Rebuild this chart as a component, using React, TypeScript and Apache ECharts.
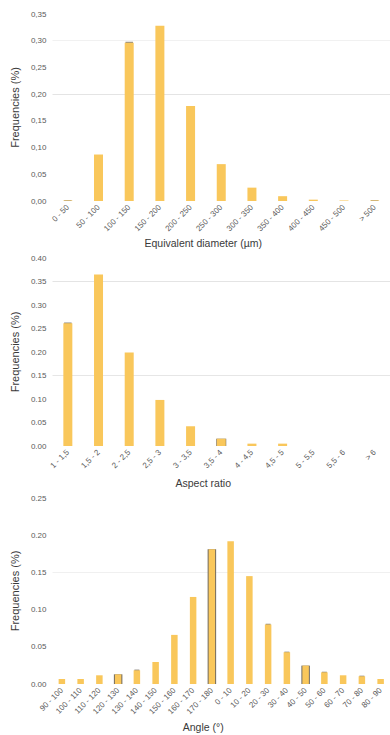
import React, { useEffect, useRef } from "react";
import * as echarts from "echarts";

const diameterCats = ["0 - 50", "50 - 100", "100 - 150", "150 - 200", "200 - 250", "250 - 300", "300 - 350", "350 - 400", "400 - 450", "450 - 500", "> 500"];
const diameterFreq = [0.001, 0.087, 0.296, 0.328, 0.178, 0.069, 0.025, 0.009, 0.0025, 0.001, 0.001];
const diameterEdgeTop = [0.0015, null, 0.298, null, null, null, null, null, null, null, 0.0015];
const diameterEdgeSide = [null, null, null, null, null, null, null, null, null, null, null];
const diameterTicks = [0, 0.05, 0.1, 0.15, 0.2, 0.25, 0.3, 0.35];

const aspectCats = ["1 - 1,5", "1,5 - 2", "2 - 2,5", "2,5 - 3", "3 - 3,5", "3,5 - 4", "4 - 4,5", "4,5 - 5", "5 - 5,5", "5,5 - 6", "> 6"];
const aspectFreq = [0.261, 0.365, 0.199, 0.098, 0.042, 0.0155, 0.005, 0.005, 0, 0, 0];
const aspectEdgeTop = [0.2628, null, null, null, null, null, null, null, null, null, null];
const aspectEdgeSide = [null, null, null, null, null, 0.0155, null, null, null, null, null];
const aspectTicks = [0, 0.05, 0.1, 0.15, 0.2, 0.25, 0.3, 0.35, 0.4];

const angleCats = ["90 - 100", "100 - 110", "110 - 120", "120 - 130", "130 - 140", "140 - 150", "150 - 160", "160 - 170", "170 - 180", "0 - 10", "10 - 20", "20 - 30", "30 - 40", "40 - 50", "50 - 60", "60 - 70", "70 - 80", "80 - 90"];
const angleFreq = [0.0067, 0.0067, 0.0117, 0.013, 0.0184, 0.0296, 0.066, 0.117, 0.181, 0.192, 0.145, 0.08, 0.0427, 0.0247, 0.0157, 0.0117, 0.0104, 0.0067];
const angleEdgeTop = [null, null, null, null, 0.0194, null, null, null, null, null, null, 0.081, 0.0435, null, 0.0165, null, 0.0112, null];
const angleEdgeSide = [null, null, null, 0.013, null, null, null, null, 0.181, null, null, null, null, 0.0247, null, null, null, null];
const angleTicks = [0, 0.05, 0.1, 0.15, 0.2, 0.25];

const FONT = "'Liberation Sans', Arial, sans-serif";
const YELLOW = "#F9C75B";
const EDGE_TOP = "#8f8a80";
const EDGE_SIDE = "#6f6a62";

export default function App() {
  const ref = useRef<HTMLDivElement>(null);
  useEffect(() => {
    if (!ref.current) return;
    const chart = echarts.init(ref.current, undefined, { renderer: "svg" });

    const panels = [
      { cats: diameterCats, freq: diameterFreq, top_: diameterEdgeTop, side: diameterEdgeSide, ticks: diameterTicks, name: "Equivalent diameter (µm)", top: 14, height: 187, nameGap: 36, comma: true, barW: 9, sideW: 11, grid: ["transparent", "transparent", "transparent", "transparent", "#e4e4e4", "transparent", "#f1f1f1", "transparent"] },
      { cats: aspectCats, freq: aspectFreq, top_: aspectEdgeTop, side: aspectEdgeSide, ticks: aspectTicks, name: "Aspect ratio", top: 258, height: 188, nameGap: 31.5, comma: false, barW: 9, sideW: 10, grid: ["transparent", "transparent", "transparent", "#e6e6e6", "transparent", "transparent", "transparent", "#e4e4e4", "transparent"] },
      { cats: angleCats, freq: angleFreq, top_: angleEdgeTop, side: angleEdgeSide, ticks: angleTicks, name: "Angle (°)", top: 498, height: 186, nameGap: 37.5, comma: false, barW: 6.5, sideW: 8.5, grid: ["transparent", "transparent", "transparent", "#f0f0f0", "transparent", "transparent"] },
    ];

    const grid: any[] = [];
    const xAxis: any[] = [];
    const yAxis: any[] = [];
    const series: any[] = [];

    panels.forEach((p, i) => {
      grid.push({ left: 52.5, width: 347.5, top: p.top, height: p.height, containLabel: false });
      xAxis.push({
        type: "category",
        gridIndex: i,
        data: p.cats,
        name: p.name,
        nameLocation: "middle",
        nameGap: p.nameGap,
        nameTextStyle: { fontFamily: FONT, fontSize: 10.5, color: "#3a3a3a", padding: [0, 36, 0, 0] },
        axisLine: { show: false },
        axisTick: { show: false },
        axisLabel: { rotate: 45, fontFamily: FONT, fontSize: 8, color: "#5a5a5a", margin: 5, interval: 0 },
      });
      yAxis.push({
        type: "value",
        gridIndex: i,
        min: 0,
        max: p.ticks[p.ticks.length - 1],
        interval: 0.05,
        name: "Frequencies (%)",
        nameLocation: "middle",
        nameGap: 28,
        nameTextStyle: { fontFamily: FONT, fontSize: 11, color: "#3a3a3a" },
        axisLine: { show: false },
        axisTick: { show: false },
        axisLabel: {
          fontFamily: FONT,
          fontSize: 8,
          color: "#5a5a5a",
          margin: 6,
          formatter: (v: number) => (p.comma ? v.toFixed(2).replace(".", ",") : v.toFixed(2)),
        },
        splitLine: { show: true, lineStyle: { color: p.grid, width: 1 } },
      });
    });

    // hidden twin axes so the edge bars centre independently in each band
    panels.forEach((p, i) => {
      xAxis.push({ type: "category", gridIndex: i, data: p.cats, show: false });
    });
    panels.forEach((p, i) => {
      xAxis.push({ type: "category", gridIndex: i, data: p.cats, show: false });
    });

    panels.forEach((p, i) => {
      series.push({
        type: "bar",
        xAxisIndex: 3 + i,
        yAxisIndex: i,
        data: p.side,
        barWidth: p.sideW,
        itemStyle: { color: EDGE_SIDE },
        z: 1,
        silent: true,
      });
      series.push({
        type: "bar",
        xAxisIndex: 6 + i,
        yAxisIndex: i,
        data: p.top_,
        barWidth: p.barW - 1.5,
        itemStyle: { color: EDGE_TOP },
        z: 1,
        silent: true,
      });
      series.push({
        type: "bar",
        xAxisIndex: i,
        yAxisIndex: i,
        data: p.freq,
        barWidth: p.barW,
        itemStyle: { color: YELLOW },
        z: 2,
      });
    });

    chart.setOption({
      animation: false,
      backgroundColor: "#ffffff",
      grid,
      xAxis,
      yAxis,
      series,
    });
    return () => chart.dispose();
  }, []);
  return <div ref={ref} style={{ position: "fixed", left: 0, top: 0, width: 390, height: 735 }} />;
}
